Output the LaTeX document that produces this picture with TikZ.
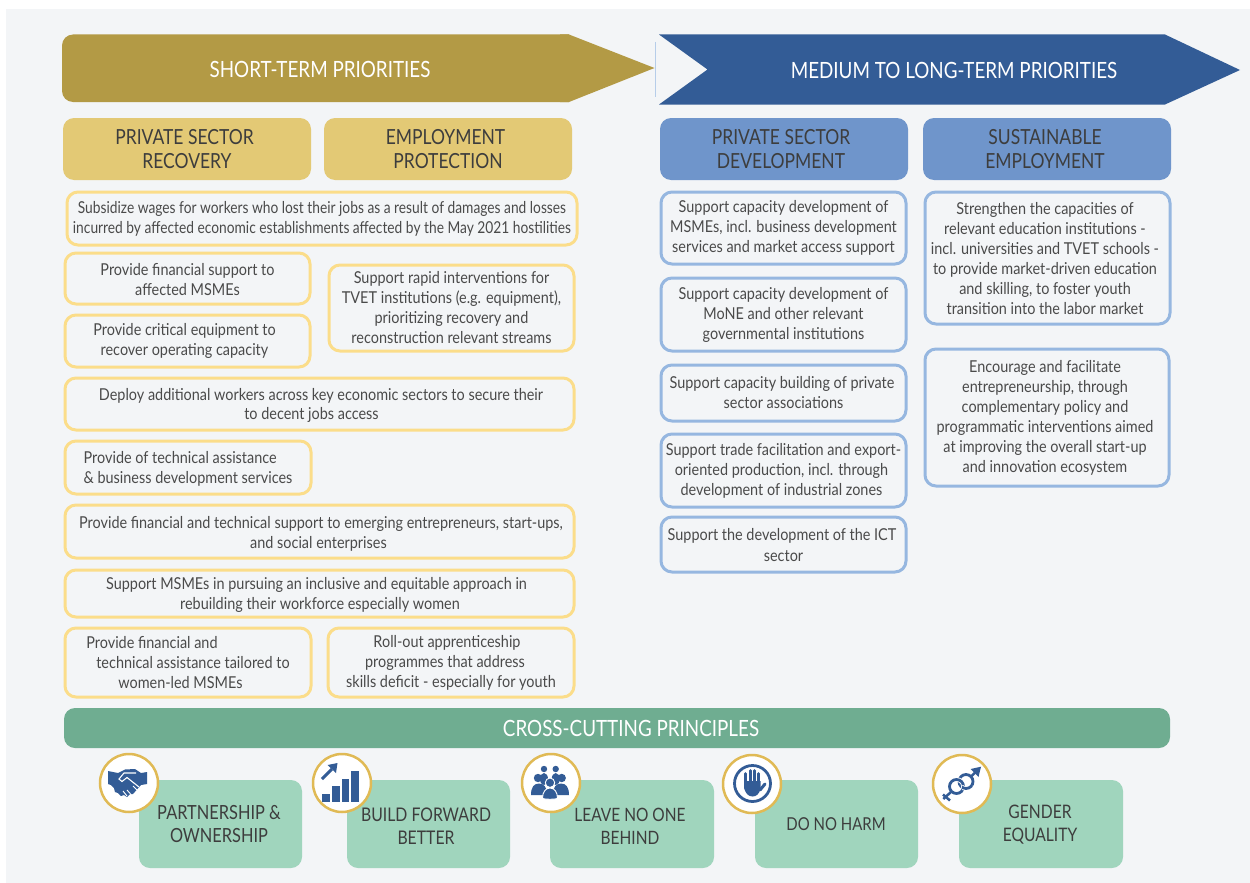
\documentclass[tikz,border=0pt]{standalone}
\usepackage{fontspec}
\setmainfont[FakeStretch=0.84]{Lato}
\newfontfamily\widefont[FakeStretch=0.88]{Lato}
\definecolor{pagebg}{HTML}{F3F5F7}
\definecolor{goldd}{HTML}{B39A45}
\definecolor{goldh}{HTML}{E3C975}
\definecolor{goldb}{HTML}{FBDD8A}
\definecolor{blued}{HTML}{335C96}
\definecolor{blueh}{HTML}{6F95CB}
\definecolor{blueb}{HTML}{96B7E0}
\definecolor{greend}{HTML}{6FAD91}
\definecolor{greenl}{HTML}{A0D5BD}
\definecolor{ringc}{HTML}{E0BA55}
\definecolor{inkc}{HTML}{3D3D3D}
\definecolor{inkb}{HTML}{4A4A4A}
\tikzset{
  bannertext/.style={text=white,font=\fontsize{22.4}{24}\selectfont,inner sep=0pt},
  headbox/.style={rounded corners=11pt,text=inkc,align=center,font=\fontsize{20.8}{23.5}\selectfont,inner sep=0pt},
  goldhead/.style={headbox,fill=goldh},
  bluehead/.style={headbox,fill=blueh},
  bodybox/.style={rounded corners=11pt,line width=3pt,fill=pagebg,text=inkb,align=center,font=\widefont\fontsize{16.4}{20}\selectfont,inner sep=0pt},
  goldbox/.style={bodybox,draw=goldb},
  goldtight/.style={goldbox,font=\fontsize{16.4}{20}\selectfont},
  bluebox/.style={bodybox,draw=blueb},
  greenbar/.style={rounded corners=11pt,fill=greend,text=white,font=\fontsize{22.4}{24}\selectfont,inner sep=0pt},
  cardbox/.style={rounded corners=11pt,fill=greenl,inner sep=0pt},
  cardtext/.style={text=inkc,align=center,inner sep=0pt},
  ringnode/.style={circle,draw=ringc,fill=white,line width=2.5pt,minimum size=58pt,inner sep=0pt},
  iconfill/.style={fill=blued,draw=none}
}
% [dx,dy]{name}{style}{x1}{y1}{x2}{y2}{text}: the box, then its text as a node
\newcommand{\bx}[8][0,0]{%
  \pgfmathsetmacro{\bxw}{#6-#4}\pgfmathsetmacro{\bxh}{#7-#5}%
  \pgfmathsetmacro{\bxx}{(#4+#6)/2}\pgfmathsetmacro{\bxy}{(#5+#7)/2}%
  \node[#3,minimum width=\bxw pt,minimum height=\bxh pt] (#2) at (\bxx,\bxy) {};
  \node[#3,draw=none,fill=none] (#2t) at ([shift={(#1)}]#2.center) {#8};}
\newcommand{\ls}[1]{\hspace*{#1pt}}
\begin{document}
\begin{tikzpicture}[x=1pt,y=-1pt]
\useasboundingbox (0,0) rectangle (1250,883);
\fill[pagebg] (6,9) rectangle (1250,883);
% banners
\fill[goldd,rounded corners=11pt] (569,34.5) -- (62,34.5) -- (62,102) -- (569,102);
\fill[goldd] (560,34.5) -- (569,34.5) -- (654.5,68) -- (569,102) -- (560,102) -- cycle;
\node[bannertext] (shortterm) at (320,69) {SHORT-TERM PRIORITIES};
\draw[blueb!70,line width=0.5pt] (655,42) -- (655,97);
\fill[blued] (659,34.5) -- (1165,34.5) -- (1240,70) -- (1165,104.5) -- (659,104.5) -- (707.5,69.5) -- cycle;
\node[bannertext] (longterm) at (954,70) {MEDIUM TO LONG-TERM PRIORITIES};
% headers
\bx{psr}{goldhead}{63}{118}{311}{180}{\ls{-5}PRIVATE SECTOR\\RECOVERY}
\bx{ep}{goldhead}{324}{118}{572}{180}{\ls{-5}EMPLOYMENT\\PROTECTION}
\bx[-3,0]{psd}{bluehead}{660}{118}{908}{180}{PRIVATE SECTOR\\DEVELOPMENT}
\bx[-2,0]{se}{bluehead}{923}{118}{1171}{180}{SUSTAINABLE\\EMPLOYMENT}
% gold boxes
\bx[0,0.5]{g1}{goldtight}{67}{192}{577}{245}{Subsidize wages for workers who lost their jobs as a result of damages and losses\\incurred by affected economic establishments affected by the May 2021 hostilities}
\bx[0,1.5]{g2}{goldbox}{65}{253}{310}{304}{Provide financial support to\\affected MSMEs}
\bx[-3,-0.3]{g3}{goldbox}{65}{315}{310}{367}{Provide critical equipment to\\recover operating capacity}
\bx[0,0]{g4}{goldbox}{329}{265}{574}{351}{Support rapid interventions for\\TVET institutions (e.g. equipment),\\prioritizing recovery and\\reconstruction relevant streams}
\bx[0,1]{g5}{goldbox}{65}{378}{574}{430}{\ls{3}Deploy additional workers across key economic sectors to secure their\\[-1pt]\ls{-16}to decent jobs access}
\bx[0,1.5]{g6}{goldbox}{65}{441}{311}{494}{\begin{tabular}{@{}l@{}}Provide of technical assistance\\\&\ business development services\end{tabular}}
\bx[0,2]{g7}{goldbox}{65}{505}{574}{558}{\ls{3}Provide financial and technical support to emerging entrepreneurs, start-ups,\\\ls{-2}and social enterprises}
\bx[0,1.5]{g8}{goldbox}{65}{570}{574}{617}{\ls{-6}Support MSMEs in pursuing an inclusive and equitable approach in\\\ls{1}rebuilding their workforce especially women}
\bx[0,1.5]{g9}{goldbox}{65}{628}{311}{697}{\begin{tabular}{@{}l@{}}Provide financial and\\\hspace*{10pt}technical assistance tailored to\\\hspace*{32pt}women-led MSMEs\end{tabular}}
\bx[0,0.5]{g10}{goldbox}{328}{628}{574}{697}{\ls{-8}Roll-out apprenticeship\\\ls{-12}programmes that address\\skills deficit - especially for youth}
% blue boxes
\bx[0,-0.3]{b1}{bluebox}{661}{192}{906}{264}{Support capacity development of\\MSMEs, incl. business development\\services and market access support}
\bx[0,0.2]{b2}{bluebox}{661}{278}{906}{351}{Support capacity development of\\MoNE and other relevant\\governmental institutions}
\bx[0,-0.5]{b3}{bluebox}{661}{365}{906}{421}{\ls{-3}Support capacity building of private\\sector associations}
\bx[0,0.6]{b4}{bluebox}{661}{434}{906}{507}{Support trade facilitation and export-\\\ls{-4}oriented production, incl. through\\\ls{-4}development of industrial zones}
\bx[0,0.2]{b5}{bluebox}{661}{517}{906}{572}{\ls{-3}Support the development of the ICT\\[1pt]sector}
\bx[-2.5,0.5]{b6}{bluebox}{925}{192}{1170}{324}{Strengthen the capacities of\\relevant education institutions -\\incl. universities and TVET schools -\\to provide market-driven education\\and skilling, to foster youth\\transition into the labor market}
\bx[-2,0]{b7}{bluebox}{925}{349}{1169}{486}{Encourage and facilitate\\entrepreneurship, through\\complementary policy and\\programmatic interventions aimed\\at improving the overall start-up\\and innovation ecosystem}
% cross-cutting
\bx[14,0]{cross}{greenbar}{64}{708}{1170}{748}{CROSS-CUTTING PRINCIPLES}
\bx{c1}{cardbox}{139}{780}{302}{868}{}
\bx{c2}{cardbox}{347}{780}{510}{868}{}
\bx{c3}{cardbox}{550}{780}{714}{868}{}
\bx{c4}{cardbox}{755}{780}{918}{868}{}
\bx{c5}{cardbox}{959}{780}{1123}{868}{}
\node[cardtext,font=\fontsize{19.5}{23}\selectfont] (t1) at (219,824) {PARTNERSHIP \&\\OWNERSHIP};
\node[cardtext,font=\fontsize{18.8}{23}\selectfont] (t2) at (426,826) {BUILD FORWARD\\BETTER};
\node[cardtext,font=\fontsize{18.4}{23}\selectfont] (t3) at (630,826) {LEAVE NO ONE\\BEHIND};
\node[cardtext,font=\fontsize{17.8}{23}\selectfont] (t4) at (836,824) {DO NO HARM};
\node[cardtext,font=\fontsize{18.6}{23}\selectfont] (t5) at (1040,825) {GENDER\\EQUALITY};
% icon rings
\node[ringnode] (r1) at (129,783) {};
\node[ringnode] (r2) at (342,783) {};
\node[ringnode] (r3) at (551,783) {};
\node[ringnode] (r4) at (752,784) {};
\node[ringnode] (r5) at (962,784) {};
% handshake
\fill[iconfill] (108,771) -- (118,773) -- (125,769.5) -- (135,769) -- (141,773) -- (147,772) -- (147,784) -- (141,785) -- (133,794) -- (130,794) -- (127,797) -- (124,795) -- (121,796) -- (118,793) -- (115,792) -- (114,788) -- (111,785) -- (108,784) -- cycle;
\draw[white,line width=1.1pt] (136,773) -- (124,773) -- (119,779) -- (122,781.5) -- (127,777.5) -- (139,787);
\draw[white,line width=0.9pt] (127,790) -- (131,794.5) (123,791) -- (127,796) (133,786) -- (137,790);
% chart
\fill[iconfill] (322,794) rectangle (329.5,802);
\fill[iconfill] (332,786) rectangle (339.5,802);
\fill[iconfill] (341.5,779) rectangle (349,802);
\fill[iconfill] (351,771) rectangle (359,802);
\draw[blued,line width=3pt] (322,779) -- (332,769);
\fill[iconfill] (337.5,763) -- (327.5,765) -- (336,773) -- cycle;
% people
\fill[iconfill] (544,769) circle (3.2);
\fill[iconfill] (555.7,769) circle (3.2);
\fill[iconfill] (544,779) ellipse (4 and 6);
\fill[iconfill] (555.7,779) ellipse (4 and 6);
\fill[iconfill] (538,778) circle (4.2);
\fill[iconfill] (561.7,778) circle (4.2);
\fill[iconfill] (531,795) .. controls (531,787) and (534,783.5) .. (539,783.5) .. controls (544,783.5) and (547,787) .. (547,795) -- cycle;
\fill[iconfill] (553,795) .. controls (553,787) and (556,783.5) .. (561,783.5) .. controls (566,783.5) and (569,787) .. (569,795) -- cycle;
\fill[iconfill,draw=white,line width=0.9pt] (550,782.7) circle (4.7);
\fill[iconfill,draw=white,line width=0.9pt] (542.5,798.5) .. controls (542.5,792) and (545.5,788) .. (550,788) .. controls (554.5,788) and (557.5,792) .. (557.5,798.5) .. controls (554,799.5) and (546,799.5) .. (542.5,798.5) -- cycle;
% hand
\draw[blued,line width=2.8pt] (752.5,783.5) circle (18);
\fill[iconfill] (744,781) -- (760.5,781) -- (760.5,789) .. controls (759,794) and (756.5,796.5) .. (752.5,796.5) .. controls (748,796.5) and (745.5,793) .. (744,788) -- cycle;
\draw[blued,line width=3pt,line cap=round] (745.7,784) -- (745.7,773.5);
\draw[blued,line width=3pt,line cap=round] (750,784) -- (750,770.5);
\draw[blued,line width=3pt,line cap=round] (754.3,784) -- (754.3,770.5);
\draw[blued,line width=3pt,line cap=round] (758.8,784) -- (758.8,773.5);
\draw[blued,line width=3pt,line cap=round] (760,790) -- (765,784);
% gender
\draw[blued,line width=2.8pt] (966,781.5) circle (7);
\draw[white,line width=4.6pt] (956.5,786.5) circle (7);
\draw[blued,line width=2.8pt] (956.5,786.5) circle (7);
\begin{scope}
\clip (962,785) rectangle (972,794);
\draw[white,line width=4.6pt] (966,781.5) circle (7);
\draw[blued,line width=2.8pt] (966,781.5) circle (7);
\end{scope}
\draw[blued,line width=2.5pt] (951.5,791.5) -- (943.3,799);
\draw[blued,line width=2.5pt] (943,794.5) -- (950,800.5);
\draw[blued,line width=2.5pt] (971,776.5) -- (976,771.5);
\fill[iconfill] (981,766.7) -- (970.7,769) -- (978.5,777) -- cycle;
\end{tikzpicture}
\end{document}
